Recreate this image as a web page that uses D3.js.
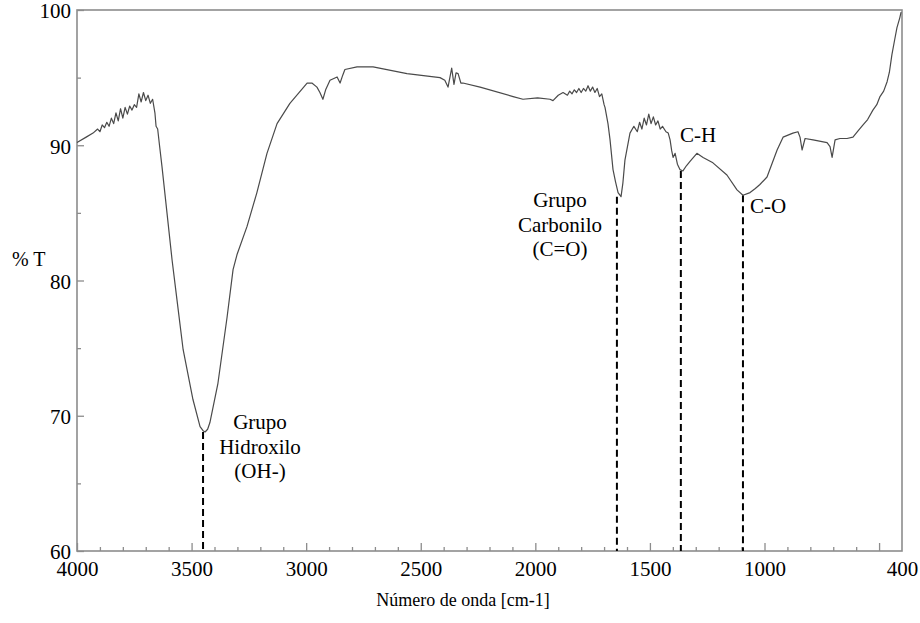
<!DOCTYPE html>
<html>
<head>
<meta charset="utf-8">
<script src="https://cdn.jsdelivr.net/npm/d3@7"></script>
<style>
  body { margin: 0; background: #fff; }
</style>
</head>
<body>
<div id="chart"></div>
<script>
//Datos del espectro (número de onda en cm-1, transmitancia en %)
const waveNumbers = [
  4000, 3960, 3930, 3910, 3900, 3890, 3880, 3870, 3860, 3850, 3840, 3830, 3820, 3810, 3800,
  3790, 3780, 3770, 3760, 3750, 3740, 3730, 3720, 3710, 3700, 3690, 3680, 3670, 3660, 3655,
  3648, 3640, 3629, 3585, 3564, 3537, 3494, 3463, 3450, 3441, 3430, 3420, 3385, 3345, 3319,
  3302, 3258, 3215, 3171, 3127, 3071, 2996, 2975, 2953, 2940, 2927, 2915, 2896, 2865, 2852,
  2840, 2831, 2778, 2708, 2560, 2416, 2395, 2381, 2365, 2355, 2346, 2337, 2325, 2316, 2241,
  2097, 2054, 1990, 1936, 1923, 1900, 1879, 1860, 1850, 1840, 1830, 1820, 1810, 1800, 1790,
  1780, 1770, 1760, 1750, 1740, 1730, 1720, 1710, 1700, 1696, 1683, 1674, 1661, 1650, 1639,
  1626, 1618, 1609, 1587, 1570, 1555, 1545, 1535, 1525, 1515, 1505, 1495, 1485, 1475, 1465,
  1455, 1445, 1430, 1420, 1412, 1405, 1399, 1390, 1380, 1369, 1356, 1340, 1325, 1295, 1268,
  1225, 1164, 1120, 1094, 1063, 1040, 1020, 989, 945, 919, 876, 854, 845, 836, 823,
  788, 727, 714, 705, 692, 671, 640, 614, 590, 570, 550, 527, 510, 496, 480,
  465, 455, 444, 432, 422, 410, 404
];
const transmittance = [
  90.2, 90.6, 90.9, 91.2, 91.0, 91.5, 91.3, 91.7, 91.4, 92.0, 91.6, 92.4, 91.8, 92.7, 92.0,
  92.8, 92.3, 92.9, 92.6, 93.0, 92.8, 93.8, 93.2, 93.9, 93.3, 93.7, 93.1, 93.4, 92.4, 91.4,
  91.2, 90.0, 88.4, 81.5, 78.6, 74.9, 71.2, 69.2, 68.9, 68.8, 69.0, 69.5, 72.4, 77.3, 80.8,
  81.9, 84.0, 86.5, 89.4, 91.6, 93.1, 94.6, 94.6, 94.3, 93.9, 93.4, 94.1, 94.8, 95.05, 94.6,
  95.2, 95.6, 95.8, 95.8, 95.3, 95.0, 94.8, 94.3, 95.7, 94.5, 95.35, 95.3, 94.6, 94.6, 94.3,
  93.6, 93.4, 93.5, 93.4, 93.3, 93.7, 93.9, 93.7, 94.0, 93.8, 94.1, 93.9, 94.2, 93.9, 94.2,
  94.0, 94.4, 94.0, 94.3, 93.9, 94.2, 93.6, 93.8, 93.0, 92.8, 91.6, 90.4, 88.2, 87.3, 86.5,
  86.2, 87.2, 88.9, 90.9, 91.4, 91.0, 91.7, 91.2, 92.0, 91.5, 92.3, 91.6, 92.1, 91.5, 91.8,
  91.2, 91.4, 91.0, 90.9, 90.4, 89.6, 89.1, 89.4, 88.6, 88.2, 88.1, 88.5, 88.8, 89.4, 89.1,
  88.7, 87.8, 86.7, 86.3, 86.5, 86.8, 87.1, 87.65, 89.65, 90.6, 90.9, 91.0, 90.6, 89.65, 90.5,
  90.4, 90.2, 89.9, 89.1, 90.4, 90.5, 90.5, 90.6, 91.1, 91.5, 91.9, 92.6, 93.0, 93.6, 94.0,
  94.7, 95.4, 96.7, 97.8, 98.7, 99.4, 99.85
];

//Ejes
const xLabelTicks = [4000, 3500, 3000, 2500, 2000, 1500, 1000, 400];
const xMajorTicks = [4000, 3500, 3000, 2500, 2000, 1500, 1000, 500];
const xMinorTicks = [3900, 3800, 3700, 3600, 3400, 3300, 3200, 3100, 2900, 2800, 2700, 2600,
  2400, 2300, 2200, 2100, 1900, 1800, 1700, 1600, 1400, 1300, 1200, 1100, 900, 800, 700, 600];
const yLabelTicks = [60, 70, 80, 90, 100];
const yMinorTicks = [65, 75, 85, 95];

//Bandas señaladas
const bandWave = [3450, 1644, 1365, 1094];
const bandTop = [68.8, 86.2, 88.1, 86.3];

const FONT = "'Liberation Serif', 'DejaVu Serif', 'Times New Roman', serif";

const margin = {top: 10, right: 18, bottom: 72, left: 77},
    width = 920 - margin.left - margin.right,
    height = 623 - margin.top - margin.bottom;

const svg = d3.select("#chart")
    .append("svg")
        .attr("width", 920)
        .attr("height", 623)
        .style("font-family", FONT)
    .append("g")
        .attr("transform", "translate(" + margin.left + "," + margin.top + ")");

const x = d3.scaleLinear()
    .domain([4000, 400])
    .range([0, width]);

const y = d3.scaleLinear()
    .domain([60, 100])
    .range([height, 0]);

const AXIS_COLOR = '#8c8c8c';

//Marco
svg.append("rect")
    .attr("x", 0).attr("y", 0)
    .attr("width", width).attr("height", height)
    .attr("fill", "none")
    .attr("stroke", AXIS_COLOR)
    .attr("stroke-width", 1.6);

function styleAxis(g) {
    g.attr("font-family", null);
    g.select(".domain").remove();
    g.selectAll(".tick line").attr("stroke", AXIS_COLOR).attr("stroke-width", 1.3);
    g.selectAll(".tick text")
        .style("font-family", FONT)
        .attr("font-size", 21)
        .attr("fill", "#000");
}

svg.append("g")
    .attr("transform", "translate(0," + height + ")")
    .call(d3.axisBottom(x).tickValues(xMinorTicks).tickSize(-4).tickFormat(""))
    .call(styleAxis);

svg.append("g")
    .attr("transform", "translate(0," + height + ")")
    .call(d3.axisBottom(x).tickValues(xMajorTicks).tickSize(-8).tickFormat(""))
    .call(styleAxis);

svg.append("g")
    .attr("transform", "translate(0," + height + ")")
    .call(d3.axisBottom(x).tickValues(xLabelTicks).tickSize(0).tickPadding(10).tickFormat(d3.format("d")))
    .call(styleAxis);

svg.append("g")
    .call(d3.axisLeft(y).tickValues(yMinorTicks).tickSize(-4).tickFormat(""))
    .call(styleAxis);

svg.append("g")
    .call(d3.axisLeft(y).tickValues(yLabelTicks).tickSize(-7).tickFormat(d3.format("d")))
    .call(styleAxis)
    .call(g => g.selectAll(".tick text").attr("x", -6).attr("dy", "0.38em"));

//Títulos de ejes
svg.append("text")
    .attr("x", 386)
    .attr("y", 596)
    .attr("text-anchor", "middle")
    .attr("font-size", 18)
    .style("font-family", FONT)
    .text("Número de onda [cm-1]");

svg.append("text")
    .attr("x", -65)
    .attr("y", 256)
    .attr("font-size", 20)
    .style("font-family", FONT)
    .text("% T");

//Líneas discontinuas
svg.selectAll(".band")
    .data(bandWave)
    .enter()
    .append("line")
        .attr("class", "band")
        .attr("x1", d => x(d))
        .attr("x2", d => x(d))
        .attr("y1", (d, i) => y(bandTop[i]))
        .attr("y2", height)
        .attr("stroke", "#000")
        .attr("stroke-width", 2)
        .attr("stroke-dasharray", "7,4");

//Espectro
const line = d3.line()
    .x((d, i) => x(waveNumbers[i]))
    .y(d => y(d));

svg.append("path")
    .datum(transmittance)
    .attr("fill", "none")
    .attr("stroke", "#4a4a4a")
    .attr("stroke-width", 1.2)
    .attr("stroke-linejoin", "round")
    .attr("d", line);

//Etiquetas
function addLabel(lines, cx, baseline) {
    lines.forEach(function(t, i) {
        svg.append("text")
            .attr("x", cx)
            .attr("y", baseline + i * 24.5)
            .attr("text-anchor", "middle")
            .attr("font-size", 21)
            .style("font-family", FONT)
            .text(t);
    });
}

addLabel(["Grupo", "Hidroxilo", "(OH-)"], 183, 419);
addLabel(["Grupo", "Carbonilo", "(C=O)"], 483, 197);

svg.append("text")
    .attr("x", 603).attr("y", 132)
    .attr("font-size", 21)
    .style("font-family", FONT)
    .text("C-H");

svg.append("text")
    .attr("x", 673).attr("y", 203)
    .attr("font-size", 21)
    .style("font-family", FONT)
    .text("C-O");
</script>
</body>
</html>
